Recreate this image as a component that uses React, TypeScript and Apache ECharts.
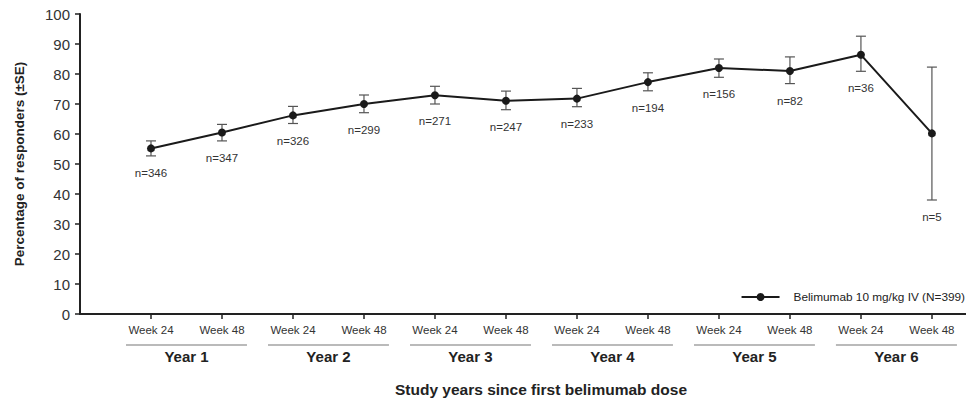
import React, { useEffect, useRef } from "react";
import * as echarts from "echarts";

const weekLabels = ["Week 24", "Week 48", "Week 24", "Week 48", "Week 24", "Week 48", "Week 24", "Week 48", "Week 24", "Week 48", "Week 24", "Week 48"];
const yearLabels = ["Year 1", "Year 2", "Year 3", "Year 4", "Year 5", "Year 6"];
const responders = [55.2, 60.5, 66.2, 70.0, 72.9, 71.1, 71.8, 77.3, 82.0, 81.0, 86.4, 60.2];
const upperSE = [57.7, 63.2, 69.2, 73.0, 75.9, 74.3, 75.2, 80.4, 85.0, 85.7, 92.6, 82.3];
const lowerSE = [52.7, 57.7, 63.5, 67.1, 70.0, 68.1, 69.1, 74.4, 78.9, 76.8, 80.9, 38.0];
const nCounts = [346, 347, 326, 299, 271, 247, 233, 194, 156, 82, 36, 5];
const yTicks = [0, 10, 20, 30, 40, 50, 60, 70, 80, 90, 100];
const seriesName = "Belimumab 10 mg/kg IV (N=399)";
const xTitle = "Study years since first belimumab dose";
const yTitle = "Percentage of responders (±SE)";

const FONT = "'Liberation Sans', Arial, Helvetica, sans-serif";

export default function App() {
  const ref = useRef<HTMLDivElement>(null);
  useEffect(() => {
    if (!ref.current) return;
    const chart = echarts.init(ref.current, null, { renderer: "svg" });
    const positions = weekLabels.map((_, i) => i + 1);
    const option: any = {
      animation: false,
      backgroundColor: "#ffffff",
      textStyle: { fontFamily: FONT },
      grid: { left: 80, right: 0, top: 14, bottom: 89, containLabel: false },
      legend: {
        data: [seriesName],
        right: 1,
        top: 291,
        padding: 0,
        itemWidth: 38,
        itemHeight: 10,
        textStyle: { fontFamily: FONT, fontSize: 11.8, color: "#222", padding: [0, 0, 0, 9] },
      },
      xAxis: {
        type: "value",
        min: 0,
        max: 12.48,
        splitLine: { show: false },
        axisLine: { show: true, onZero: false, lineStyle: { color: "#222", width: 2 } },
        axisTick: { show: true, customValues: positions, length: 5, lineStyle: { color: "#222", width: 1.5 } },
        axisLabel: {
          show: true,
          customValues: positions,
          margin: 10,
          fontFamily: FONT,
          fontSize: 11.5,
          color: "#333",
          formatter: (v: number) => weekLabels[Math.round(v) - 1] ?? "",
        },
      },
      yAxis: {
        type: "value",
        min: 0,
        max: 100,
        interval: 10,
        splitLine: { show: false },
        axisLine: { show: true, lineStyle: { color: "#222", width: 2 } },
        axisTick: { show: true, length: 5, lineStyle: { color: "#222", width: 1.5 } },
        axisLabel: {
          margin: 10,
          fontFamily: FONT,
          fontSize: 15,
          color: "#333",
          formatter: (v: number) => (yTicks.includes(v) ? String(v) : ""),
        },
        name: yTitle,
        nameLocation: "middle",
        nameGap: 54,
        nameTextStyle: { fontFamily: FONT, fontSize: 13.5, fontWeight: "bold", color: "#222" },
      },
      graphic: [
        {
          type: "text",
          x: 541,
          y: 389,
          style: {
            text: xTitle,
            font: `bold 15.5px ${FONT}`,
            fill: "#222",
            align: "center",
            verticalAlign: "middle",
          },
        },
      ],
      series: [
        {
          name: "errors",
          type: "custom",
          clip: false,
          z: 1,
          silent: true,
          data: responders.map((_, i) => [i + 1, lowerSE[i], upperSE[i], nCounts[i]]),
          renderItem: (params: any, api: any) => {
            const x = api.value(0);
            const lo = api.coord([x, api.value(1)]);
            const hi = api.coord([x, api.value(2)]);
            const cap = 5;
            const stroke = { stroke: "#555", lineWidth: 1.2 };
            return {
              type: "group",
              children: [
                { type: "line", shape: { x1: lo[0], y1: lo[1], x2: hi[0], y2: hi[1] }, style: stroke },
                { type: "line", shape: { x1: hi[0] - cap, y1: hi[1], x2: hi[0] + cap, y2: hi[1] }, style: stroke },
                { type: "line", shape: { x1: lo[0] - cap, y1: lo[1], x2: lo[0] + cap, y2: lo[1] }, style: stroke },
                {
                  type: "text",
                  x: lo[0],
                  y: lo[1] + 17,
                  style: {
                    text: "n=" + api.value(3),
                    font: `11.5px ${FONT}`,
                    fill: "#333",
                    align: "center",
                    verticalAlign: "middle",
                  },
                },
              ],
            };
          },
        },
        {
          name: "years",
          type: "custom",
          clip: false,
          silent: true,
          data: yearLabels.map((_, i) => [2 * i + 1, 2 * i + 2]),
          renderItem: (params: any, api: any) => {
            const a = api.coord([api.value(0), 0]);
            const b = api.coord([api.value(1), 0]);
            const y0 = a[1];
            return {
              type: "group",
              children: [
                {
                  type: "line",
                  shape: { x1: a[0] - 25, y1: y0 + 31, x2: b[0] + 25, y2: y0 + 31 },
                  style: { stroke: "#777", lineWidth: 1.2 },
                },
                {
                  type: "text",
                  x: (a[0] + b[0]) / 2,
                  y: y0 + 42,
                  style: {
                    text: yearLabels[params.dataIndex],
                    font: `bold 15px ${FONT}`,
                    fill: "#222",
                    align: "center",
                    verticalAlign: "middle",
                  },
                },
              ],
            };
          },
        },
        {
          name: seriesName,
          type: "line",
          z: 3,
          data: responders.map((v, i) => [i + 1, v]),
          symbol: "circle",
          symbolSize: 8,
          lineStyle: { color: "#1a1a1a", width: 2 },
          itemStyle: { color: "#1a1a1a" },
        },
      ],
    };
    chart.setOption(option);
    return () => chart.dispose();
  }, []);
  return (
    <div
      ref={ref}
      style={{ position: "absolute", left: 0, top: 0, width: 966, height: 403 }}
    />
  );
}
